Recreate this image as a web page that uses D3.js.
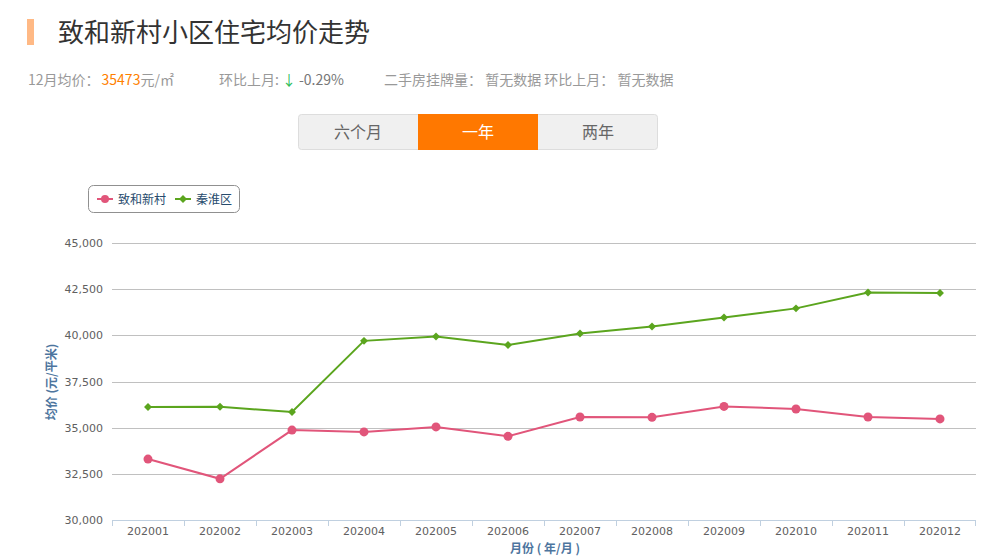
<!DOCTYPE html>
<html><head><meta charset="utf-8">
<script src="https://cdn.jsdelivr.net/npm/d3@7"></script>
<style>
body{margin:0;background:#fff;font-family:"Microsoft YaHei","Noto Sans CJK SC","Noto Sans",sans-serif;}
svg{display:block}
</style></head>
<body>
<svg id="c" width="989" height="560"></svg>
<script>
const months = ["202001","202002","202003","202004","202005","202006","202007","202008","202009","202010","202011","202012"];
const zhihe = [33300,32230,34870,34770,35040,34530,35580,35560,36150,36010,35580,35473];
const qinhuai = [36120,36130,35850,39700,39940,39480,40100,40480,40970,41460,42320,42290];
const yTicks = [30000,32500,35000,37500,40000,42500,45000];
const seriesNames = ["致和新村","秦淮区"];
const colors = ["#E1557A","#5BA51E"];

const svg = d3.select("#c");
const font = '"Microsoft YaHei","Noto Sans CJK SC",sans-serif';

// header
svg.append("rect").attr("x",27).attr("y",19).attr("width",7).attr("height",26).attr("fill","#FFB985");
svg.append("text").attr("x",58).attr("y",42).attr("font-size",26).attr("fill","#333").attr("font-family",font).text("致和新村小区住宅均价走势");

const sub = svg.append("text").attr("y",85).attr("font-size",14).attr("font-family",font).attr("fill","#999");
sub.append("tspan").attr("x",28).text("12月均价：");
sub.append("tspan").attr("fill","#FF7F00").attr("dx",2).text("35473");
sub.append("tspan").text("元/㎡");
const sub2 = svg.append("text").attr("x",219).attr("y",85).attr("font-size",14).attr("font-family",font).attr("fill","#999");
sub2.append("tspan").text("环比上月:");
sub2.append("tspan").attr("fill","#2DBE5A").attr("dx",3).text("↓");
sub2.append("tspan").attr("fill","#777").attr("dx",3).text("-0.29%");
svg.append("text").attr("x",384).attr("y",85).attr("font-size",14).attr("font-family",font).attr("fill","#999")
  .text("二手房挂牌量： 暂无数据 环比上月： 暂无数据");

// buttons
const btns = ["六个月","一年","两年"];
svg.append("rect").attr("x",298.5).attr("y",114.5).attr("width",359).attr("height",35).attr("rx",3).attr("fill","#F0F0F0").attr("stroke","#DDDDDD");
svg.append("rect").attr("x",418).attr("y",114).attr("width",120).attr("height",36).attr("fill","#FF7800");
btns.forEach((b,i)=>{
  svg.append("text").attr("x",358+i*120).attr("y",138).attr("text-anchor","middle").attr("font-size",16)
    .attr("font-family",font).attr("fill", i===1?"#fff":"#666").text(b);
});

// chart
const x = d3.scaleBand().domain(months).range([112,976]);
const y = d3.scaleLinear().domain([30000,45000]).range([520,243]);

const grid = svg.append("g");
yTicks.forEach(t=>{
  if(t!==30000) grid.append("line").attr("x1",112).attr("x2",976).attr("y1",Math.round(y(t))+0.5).attr("y2",Math.round(y(t))+0.5).attr("stroke","#C0C0C0");
  svg.append("text").attr("x",103).attr("y",y(t)+4).attr("text-anchor","end").attr("font-size",11)
    .attr("font-family","Verdana,DejaVu Sans,sans-serif").attr("fill","#606060").text(d3.format(",")(t));
});

// x axis
svg.append("line").attr("x1",112).attr("x2",976).attr("y1",520.5).attr("y2",520.5).attr("stroke","#C0D0E0");
months.forEach((m,i)=>{
  svg.append("line").attr("x1",Math.round(x(m))+0.5).attr("x2",Math.round(x(m))+0.5).attr("y1",520).attr("y2",526).attr("stroke","#C0D0E0");
  svg.append("text").attr("x",x(m)+x.bandwidth()/2).attr("y",535).attr("text-anchor","middle").attr("font-size",11)
    .attr("font-family","Verdana,DejaVu Sans,sans-serif").attr("fill","#606060").text(m);
});
svg.append("line").attr("x1",975.5).attr("x2",975.5).attr("y1",520).attr("y2",526).attr("stroke","#C0D0E0");

svg.append("text").attr("x",545).attr("y",553).attr("text-anchor","middle").attr("font-size",12).attr("font-weight","bold")
  .attr("font-family",font).attr("fill","#4D759E").text("月份 ( 年/月 )");
svg.append("text").attr("transform","translate(56,382) rotate(-90)").attr("text-anchor","middle").attr("font-size",12).attr("font-weight","bold")
  .attr("font-family",font).attr("fill","#4D759E").text("均价 (元/平米)");

const cx = m => x(m)+x.bandwidth()/2;
const line = d3.line().x((d,i)=>cx(months[i])).y(d=>y(d));
[zhihe,qinhuai].forEach((s,k)=>{
  svg.append("path").attr("d",line(s)).attr("fill","none").attr("stroke",colors[k]).attr("stroke-width",2);
});
zhihe.forEach((v,i)=>svg.append("circle").attr("cx",cx(months[i])).attr("cy",y(v)).attr("r",4.5).attr("fill",colors[0]));
const dia = d3.symbol().type(d3.symbolDiamond2).size(40);
qinhuai.forEach((v,i)=>svg.append("path").attr("d",dia()).attr("transform",`translate(${cx(months[i])},${y(v)})`).attr("fill",colors[1]));

// legend
svg.append("rect").attr("x",88.5).attr("y",185.5).attr("width",151).attr("height",27).attr("rx",5).attr("fill","#fff").attr("stroke","#909090");
const lg = [[97,118],[175,196]];
seriesNames.forEach((n,k)=>{
  const [lx,tx]=lg[k];
  svg.append("line").attr("x1",lx).attr("x2",lx+16).attr("y1",199).attr("y2",199).attr("stroke",colors[k]).attr("stroke-width",2);
  if(k===0) svg.append("circle").attr("cx",lx+8).attr("cy",199).attr("r",4).attr("fill",colors[0]);
  else svg.append("path").attr("d",dia()).attr("transform",`translate(${lx+8},199)`).attr("fill",colors[1]);
  svg.append("text").attr("x",tx).attr("y",203.5).attr("font-size",12).attr("font-family",font).attr("fill","#274B6D").text(n);
});
</script>
</body></html>
